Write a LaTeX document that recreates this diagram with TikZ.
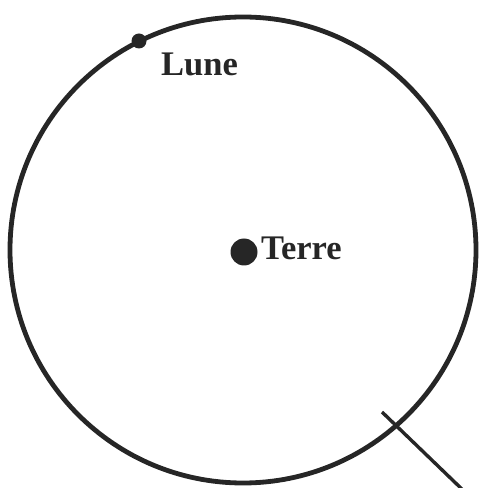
\documentclass[tikz,border=0pt]{standalone}
\usepackage{fontspec}
\setmainfont{Liberation Serif}
\begin{document}
\begin{tikzpicture}[x=1pt,y=1pt,
  orbit/.style={line width=4.8pt,draw=black!85},
  body/.style={circle,fill=black!85,inner sep=0pt},
  lbl/.style={font=\fontsize{34.5}{38}\selectfont\bfseries,text=black!85,inner sep=0pt,anchor=base west},
  ray/.style={line width=3.4pt,draw=black!85}]
\useasboundingbox (0,0) rectangle (480,488);
\coordinate (c) at (243,238);
\draw[orbit] (c) circle (233);
\node[body,minimum size=27pt] (terre) at (244,236) {};
\node[body,minimum size=15pt] (lune) at (139,447) {};
\node[lbl] (tlbl) at (261,228) {Terre};
\node[lbl] (llbl) at (161,412) {Lune};
\coordinate (r1) at (382,76);
\coordinate (r2) at (467,-6);
\draw[ray] (r1) -- (r2);
\end{tikzpicture}
\end{document}
